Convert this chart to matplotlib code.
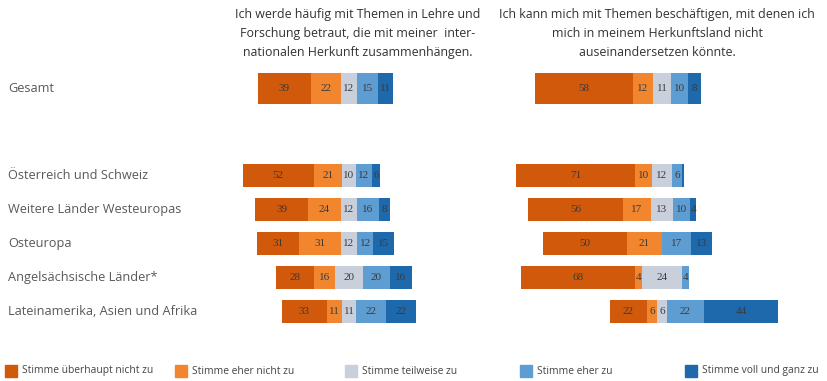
import matplotlib
matplotlib.use("Agg")
import matplotlib.pyplot as plt
from matplotlib.patches import Rectangle
import numpy as np

# Survey groups (rows) and response categories
groups = ["Gesamt", "Österreich und Schweiz", "Weitere Länder Westeuropas",
          "Osteuropa", "Angelsächsische Länder*", "Lateinamerika, Asien und Afrika"]
responses = ["Stimme überhaupt nicht zu", "Stimme eher nicht zu", "Stimme teilweise zu",
             "Stimme eher zu", "Stimme voll und ganz zu"]

# Statement 1: shares in percent, one list per response category
s1_disagree_strong = [39, 52, 39, 31, 28, 33]
s1_disagree = [22, 21, 24, 31, 16, 11]
s1_partly = [12, 10, 12, 12, 20, 11]
s1_agree = [15, 12, 16, 12, 20, 22]
s1_agree_strong = [11, 6, 8, 15, 16, 22]

# Statement 2
s2_disagree_strong = [58, 71, 56, 50, 68, 22]
s2_disagree = [12, 10, 17, 21, 4, 6]
s2_partly = [11, 12, 13, 0, 24, 6]
s2_agree = [10, 6, 10, 17, 4, 22]
s2_agree_strong = [8, 1, 4, 13, 0, 44]

title1 = "Ich werde häufig mit Themen in Lehre und\nForschung betraut, die mit meiner  inter-\nnationalen Herkunft zusammenhängen."
title2 = "Ich kann mich mit Themen beschäftigen, mit denen ich\nmich in meinem Herkunftsland nicht\nauseinandersetzen könnte."

colors = ["#D0590B", "#F2862E", "#C9D0DC", "#5E9DD2", "#1E69AC"]

W, H = 828, 381
fig = plt.figure(figsize=(W / 100, H / 100), dpi=100)
fig.patch.set_facecolor("white")

ROW = 34.0          # pixels per row
GESAMT_Y = 88.5     # pixel y of first row centre
AX_TOP, AX_BOT = 40, 340


def make_axes(px_left, px_right, centre_px, px_per_unit):
    ax = fig.add_axes([px_left / W, 1 - AX_BOT / H, (px_right - px_left) / W, (AX_BOT - AX_TOP) / H])
    ax.set_xlim((px_left - centre_px) / px_per_unit, (px_right - centre_px) / px_per_unit)
    ax.set_ylim((AX_BOT - GESAMT_Y) / ROW, (AX_TOP - GESAMT_Y) / ROW)
    ax.axis("off")
    return ax


gap = (175.5 - GESAMT_Y) / ROW
ypos = np.array([0.0] + [gap + i for i in range(len(groups) - 1)])
heights = np.array([0.91] + [0.70] * (len(groups) - 1))


def draw_panel(ax, series):
    data = np.array(series, dtype=float)  # shape (5, n)
    start = -(data[0] + data[1] + data[2] / 2)
    left = start.copy()
    for k in range(data.shape[0]):
        vals = data[k]
        ax.barh(ypos, vals, left=left, height=heights, color=colors[k],
                edgecolor="none", linewidth=0)
        for y, l, v in zip(ypos, left, vals):
            if v >= 3:
                ax.text(l + v / 2, y, f"{int(v)}", ha="center", va="center",
                        fontsize=8, family="Liberation Serif", color="#3a3a3a")
        left = left + vals


ax1 = make_axes(215, 490, 349, 1.36)
draw_panel(ax1, [s1_disagree_strong, s1_disagree, s1_partly, s1_agree, s1_agree_strong])
ax2 = make_axes(495, 828, 662, 1.68)
draw_panel(ax2, [s2_disagree_strong, s2_disagree, s2_partly, s2_agree, s2_agree_strong])

# Row labels
for g, y in zip(groups, ypos):
    py = GESAMT_Y + y * ROW
    fig.text(8 / W, 1 - py / H, g, ha="left", va="center", fontsize=9.2,
             family="Open Sans", color="#595959")

# Column titles
fig.text(358 / W, 1 - 8 / H, title1, ha="center", va="top", fontsize=8.9,
         family="Open Sans", color="#333333", linespacing=1.6)
fig.text(657 / W, 1 - 8 / H, title2, ha="center", va="top", fontsize=8.9,
         family="Open Sans", color="#333333", linespacing=1.6)

# Legend
leg_x = [5, 175, 345, 520, 685]
for x, c, lab in zip(leg_x, colors, responses):
    fig.add_artist(Rectangle((x / W, 1 - 377 / H), 12 / W, 12 / H, color=c,
                             transform=fig.transFigure))
    fig.text((x + 17) / W, 1 - 371 / H, lab, ha="left", va="center", fontsize=7.4,
             family="Open Sans", color="#444444")

fig.savefig("out.png", dpi=100, facecolor="white")
